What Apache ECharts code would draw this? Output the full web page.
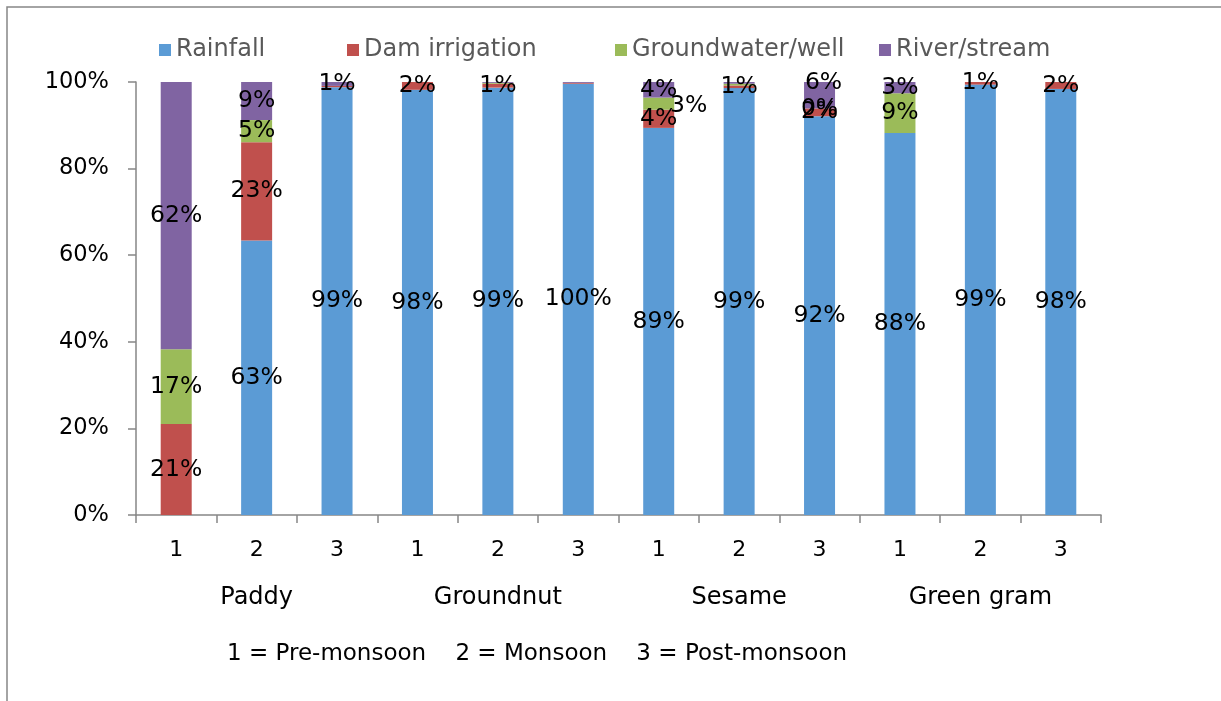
<!DOCTYPE html>
<html>
<head>
<meta charset="utf-8">
<script src="https://cdn.jsdelivr.net/npm/echarts@6/dist/echarts.min.js"></script>
<style>
  html, body { margin: 0; padding: 0; background: #fff; }
  #chart { width: 1221px; height: 701px; }
</style>
</head>
<body>
<div id="chart"></div>
<script>
// seasons inside each crop
const seasons = ['1', '2', '3', '1', '2', '3', '1', '2', '3', '1', '2', '3']
const crops = ['Paddy', 'Groundnut', 'Sesame', 'Green gram']
const seriesNames = ['Rainfall', 'Dam irrigation', 'Groundwater/well', 'River/stream']

// share of each water source (%)
const rainfall = [null, 63.4, 98.8, 98.2, 98.7, 99.6, 89.4, 98.6, 92.1, 88.2, 99.4, 98.4]
const damIrrigation = [21.0, 22.7, 0.3, 1.8, 0.9, 0.2, 4.2, 0.6, 1.8, null, 0.6, 1.6]
const groundwater = [17.3, 5.1, null, null, 0.2, null, 2.8, 0.4, 0, 9.2, null, null]
const riverStream = [61.7, 8.8, 0.9, null, 0.2, 0.2, 3.6, 0.4, 6.1, 2.6, null, null]

const yTicks = [0, 20, 40, 60, 80, 100]
const note = '1 = Pre-monsoon    2 = Monsoon    3 = Post-monsoon'

const colors = ['#5B9BD5', '#C0504D', '#9BBB59', '#8064A2']
const FONT = 'DejaVu Sans'

const chart = echarts.init(document.getElementById('chart'))

const labelFmt = (p) => {
  const v = p.value
  if (v == null) return ''
  if (v > 0 && v < 0.5) return ''
  return Math.round(v) + '%'
}

// a few labels were nudged by hand in the original
const labelNudge = {
  '2-6': [30, 2],
  '3-8': [4, -12],
}
const toData = (arr, si) =>
  arr.map((v, i) => {
    const off = labelNudge[si + '-' + i]
    if (off) return { value: v, label: { offset: off } }
    return v
  })

const legendLeft = [154, 342, 610, 874]

chart.setOption({
  animation: false,
  backgroundColor: '#fff',
  color: colors,
  textStyle: { fontFamily: FONT },
  legend: seriesNames.map((name, i) => ({
    data: [name],
    left: legendLeft[i],
    top: 33,
    itemWidth: 12,
    itemHeight: 12,
    icon: 'rect',
    itemGap: 8,
    textStyle: { fontFamily: FONT, fontSize: 24, color: '#595959' },
  })),
  grid: {
    left: 136,
    right: 120,
    top: 82,
    bottom: 186,
  },
  xAxis: [
    {
      type: 'category',
      data: seasons,
      axisLine: { lineStyle: { color: '#868686', width: 1.5 } },
      axisTick: { show: true, alignWithLabel: false, length: 8, lineStyle: { color: '#868686', width: 1.5 } },
      axisLabel: { color: '#000', fontSize: 22, margin: 24, fontFamily: FONT },
    },
    {
      type: 'category',
      data: crops,
      position: 'bottom',
      offset: 58,
      axisLine: { show: false },
      axisTick: { show: false },
      axisLabel: { color: '#000', fontSize: 24, margin: 13, fontFamily: FONT },
    },
  ],
  yAxis: {
    type: 'value',
    min: yTicks[0],
    max: yTicks[yTicks.length - 1],
    interval: 20,
    splitLine: { show: false },
    axisLine: { show: true, lineStyle: { color: '#868686', width: 1.5 } },
    axisTick: { show: true, length: 8, lineStyle: { color: '#868686', width: 1.5 } },
    axisLabel: { color: '#000', fontSize: 22.5, margin: 27, formatter: '{value}%', fontFamily: FONT },
  },
  series: [rainfall, damIrrigation, groundwater, riverStream].map((arr, si) => ({
    name: seriesNames[si],
    type: 'bar',
    stack: 'total',
    xAxisIndex: 0,
    barWidth: 31,
    label: {
      show: true,
      position: 'inside',
      color: '#000',
      fontSize: 23.5,
      fontFamily: FONT,
      formatter: labelFmt,
    },
    data: toData(arr, si),
  })),
  graphic: [
    {
      type: 'rect',
      shape: { x: 7, y: 7, width: 1400, height: 900 },
      style: { fill: 'none', stroke: '#868686', lineWidth: 1.5 },
      silent: true,
    },
    {
      type: 'text',
      left: 227,
      top: 643,
      style: { text: note, fontSize: 23, fontFamily: FONT, fill: '#000' },
    },
  ],
})
</script>
</body>
</html>
